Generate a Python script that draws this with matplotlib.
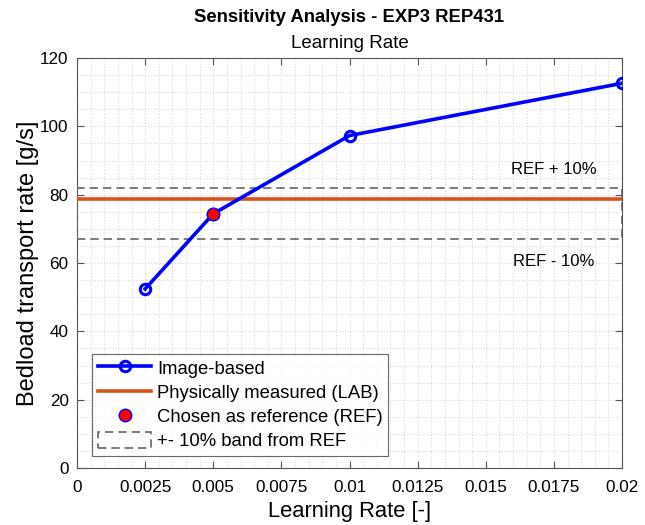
import matplotlib
matplotlib.use("Agg")
import matplotlib.pyplot as plt
from matplotlib.patches import Rectangle
from matplotlib.ticker import MultipleLocator, FixedLocator
from matplotlib.lines import Line2D

plt.rcParams['font.family'] = ['Liberation Sans', 'DejaVu Sans']

learning_rate = [0.0025, 0.005, 0.01, 0.02]
bedload = [52.4, 74.4, 97.3, 112.6]
ref_x = 0.005
ref_y = 74.4
lab_value = 78.7
band_pct = 0.10
x_ticks = [0, 0.0025, 0.005, 0.0075, 0.01, 0.0125, 0.015, 0.0175, 0.02]
x_tick_labels = ['0', '0.0025', '0.005', '0.0075', '0.01', '0.0125', '0.015', '0.0175', '0.02']
y_ticks = [0, 20, 40, 60, 80, 100, 120]

fig = plt.figure(figsize=(6.45, 5.25), dpi=100)
ax = fig.add_axes([77/645, 1-468/525, 545/645, 410/525])

blue = '#0000ff'
orange = '#d95319'

ax.plot(learning_rate, bedload, color=blue, lw=2.6, marker='o', ms=7.5,
        mfc='none', mec=blue, mew=2.2, zorder=5)
ax.axhline(lab_value, color=orange, lw=2.6, zorder=4)
ax.plot([ref_x], [ref_y], 'o', ms=9, mfc='red', mec=blue, mew=1.0, zorder=6)

lo = ref_y * (1 - band_pct)
hi = ref_y * (1 + band_pct)
ax.add_patch(Rectangle((0, lo), 0.02, hi - lo, fill=False, ls=(0, (5, 3)),
                       ec='#666666', lw=1.2, zorder=3))
ax.text(0.0175, hi + 5.5, 'REF + 10%', ha='center', va='center', fontsize=12)
ax.text(0.0175, lo - 6.5, 'REF - 10%', ha='center', va='center', fontsize=12)

ax.set_xlim(0, 0.02)
ax.set_ylim(0, 120)
ax.xaxis.set_major_locator(FixedLocator(x_ticks))
ax.set_xticklabels(x_tick_labels)
ax.set_yticks(y_ticks)
ax.xaxis.set_minor_locator(MultipleLocator(0.0005))
ax.yaxis.set_minor_locator(MultipleLocator(5))
ax.grid(True, which='both', color='#d8d8d8', ls=':', lw=0.8)
ax.set_axisbelow(True)
ax.tick_params(which='major', direction='in', top=True, right=True, length=5,
               labelsize=12.3, color='#555555', pad=6)
ax.tick_params(axis='x', which='major', pad=9)
ax.tick_params(which='minor', length=0)
for s in ax.spines.values():
    s.set_color('#555555')
    s.set_linewidth(0.8)

ax.set_xlabel('Learning Rate [-]', fontsize=15.8, labelpad=4)
ax.set_ylabel('Bedload transport rate [g/s]', fontsize=17, labelpad=1)
fig.text(349.5/645, 1-18/525, 'Sensitivity Analysis - EXP3 REP431', ha='center', va='center',
         fontsize=13.3, fontweight='bold')
fig.text(349.5/645, 1-43/525, 'Learning Rate', ha='center', va='center', fontsize=13.5)

handles = [
    Line2D([], [], color=blue, lw=2.6, marker='o', ms=7.5, mfc='none', mec=blue, mew=2.2),
    Line2D([], [], color=orange, lw=2.6),
    Line2D([], [], ls='none', marker='o', ms=9, mfc='red', mec=blue, mew=1.0),
    Rectangle((0, 0), 1, 1, fill=False, ls=(0, (5, 3)), ec='#666666', lw=1.2),
]
labels = ['Image-based', 'Physically measured (LAB)', 'Chosen as reference (REF)',
          '+- 10% band from REF']
leg = ax.legend(handles, labels, loc='lower left', bbox_to_anchor=(0.028, 0.03),
                fontsize=13.3, frameon=True, fancybox=False, edgecolor='#444444',
                borderpad=0.3, labelspacing=0.3, handlelength=2.9, handletextpad=0.3,
                borderaxespad=0, handleheight=1.0)
leg.get_frame().set_linewidth(0.8)

fig.savefig('out.png', dpi=100)
